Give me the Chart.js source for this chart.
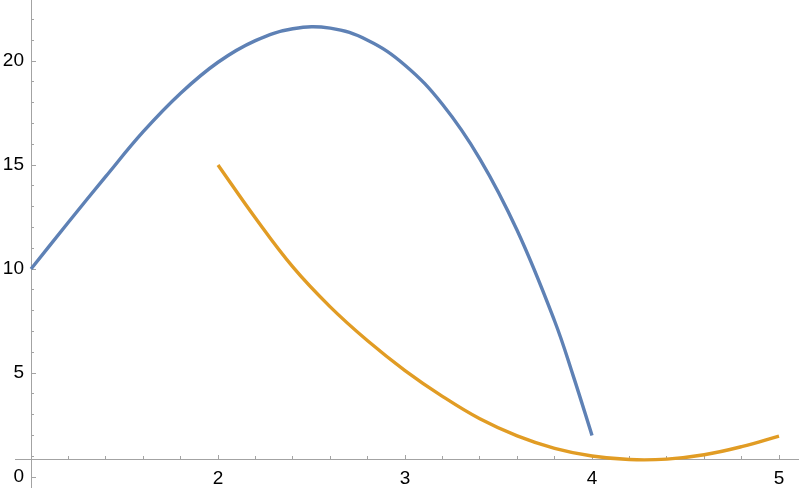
<!DOCTYPE html>
<html>
<head>
<meta charset="utf-8">
<script src="https://cdn.jsdelivr.net/npm/chart.js@4.4.0/dist/chart.umd.min.js"></script>
<style>
  html, body { margin: 0; padding: 0; background: #fff; }
  #wrap { width: 800px; height: 494px; }
</style>
</head>
<body>
<div id="wrap"><canvas id="myChart"></canvas></div>
<script>
// values
const blueX = [1, 1.2, 1.4, 1.6, 1.8, 2, 2.2, 2.4, 2.6, 2.8, 3, 3.2, 3.4, 3.6, 3.8, 3.9, 4];
const blueY = [10, 12.25, 14.45, 16.6, 18.45, 19.94, 20.98, 21.55, 21.58, 21.0, 19.8, 17.92, 15.3, 11.85, 7.5, 4.85, 2.0];
const orangeX = [2, 2.2, 2.4, 2.6, 2.8, 3, 3.2, 3.4, 3.6, 3.8, 4, 4.2, 4.4, 4.6, 4.8, 5];
const orangeY = [15, 12.45, 10.1, 8.18, 6.55, 5.12, 3.88, 2.8, 1.98, 1.38, 1.01, 0.84, 0.86, 1.07, 1.46, 1.97];
const xTickLabels = [2, 3, 4, 5];
const yTickLabels = [0, 5, 10, 15, 20];

// plot range and where the axes cross
const xMin = 0.9144, xMax = 5.1016;
const yMin = -0.48, yMax = 22.933;
const axisX = 1, axisY = 0.85;
const pxX = 187, pxY = 20.8;

const gray = "#a3a3a3";
const labelFont = { family: "'Liberation Sans', Arial, sans-serif", size: 19 };

function toPoints(xs, ys) {
    return xs.map((x, i) => ({ x: x, y: ys[i] }));
}

function noPad(scale) {
    scale.paddingTop = 0;
    scale.paddingBottom = 0;
    scale.paddingLeft = 0;
    scale.paddingRight = 0;
}

// axes that only draw tick marks, shifted so the marks point into the plot
function tickAxis(axis, at, step, len) {
    return {
        type: "linear",
        axis: axis,
        position: at,
        min: axis === "x" ? xMin : yMin,
        max: axis === "x" ? xMax : yMax,
        border: { display: false },
        grid: { drawOnChartArea: false, drawTicks: true, tickLength: len, tickColor: gray, tickWidth: 1 },
        ticks: { display: false, stepSize: step, autoSkip: false, includeBounds: false },
        afterFit: noPad
    };
}

new Chart("myChart", {
    type: "line",
    data: {
        datasets: [{
            data: toPoints(blueX, blueY),
            borderColor: "#5e81b5",
            borderWidth: 3.4,
            pointRadius: 0,
            tension: 0.4,
            fill: false,
            xAxisID: "x",
            yAxisID: "y"
        }, {
            data: toPoints(orangeX, orangeY),
            borderColor: "#e19c24",
            borderWidth: 3.4,
            pointRadius: 0,
            tension: 0.4,
            fill: false,
            xAxisID: "x",
            yAxisID: "y"
        }]
    },
    options: {
        responsive: true,
        maintainAspectRatio: false,
        animation: false,
        events: [],
        layout: { padding: { left: 15, right: 2, top: 0, bottom: 7 } },
        plugins: {
            legend: { display: false },
            tooltip: { enabled: false }
        },
        scales: {
            x: {
                type: "linear",
                axis: "x",
                position: { y: axisY },
                min: xMin,
                max: xMax,
                border: { display: true, color: gray, width: 1 },
                grid: { drawOnChartArea: false, drawTicks: false },
                ticks: {
                    stepSize: 1, autoSkip: false, includeBounds: false, maxRotation: 0,
                    padding: 8, color: "#000", font: labelFont,
                    callback: v => xTickLabels.includes(v) ? String(v) : ""
                },
                afterFit: noPad
            },
            // labels of the vertical axis, set a little to the left of its line
            y: {
                type: "linear",
                axis: "y",
                position: { x: axisX - 7 / pxX },
                min: yMin,
                max: yMax,
                border: { display: false },
                grid: { drawOnChartArea: false, drawTicks: false },
                ticks: {
                    stepSize: 5, autoSkip: false, includeBounds: false,
                    color: "#000", font: labelFont,
                    callback: v => yTickLabels.includes(v) ? String(v) : ""
                },
                afterFit: noPad
            },
            yLine: {
                type: "linear",
                axis: "y",
                position: { x: axisX },
                min: yMin,
                max: yMax,
                border: { display: true, color: gray, width: 1 },
                grid: { drawOnChartArea: false, drawTicks: false },
                ticks: { display: false },
                afterFit: noPad
            },
            xMinor: tickAxis("x", { y: axisY + 3 / pxY }, 0.2, 3),
            xMajor: tickAxis("x", { y: axisY + 4.5 / pxY }, 1, 4.5),
            yMinor: tickAxis("y", { x: axisX + 3 / pxX }, 1, 3),
            yMajor: tickAxis("y", { x: axisX + 4.5 / pxX }, 5, 4.5)
        }
    }
});
</script>
</body>
</html>
